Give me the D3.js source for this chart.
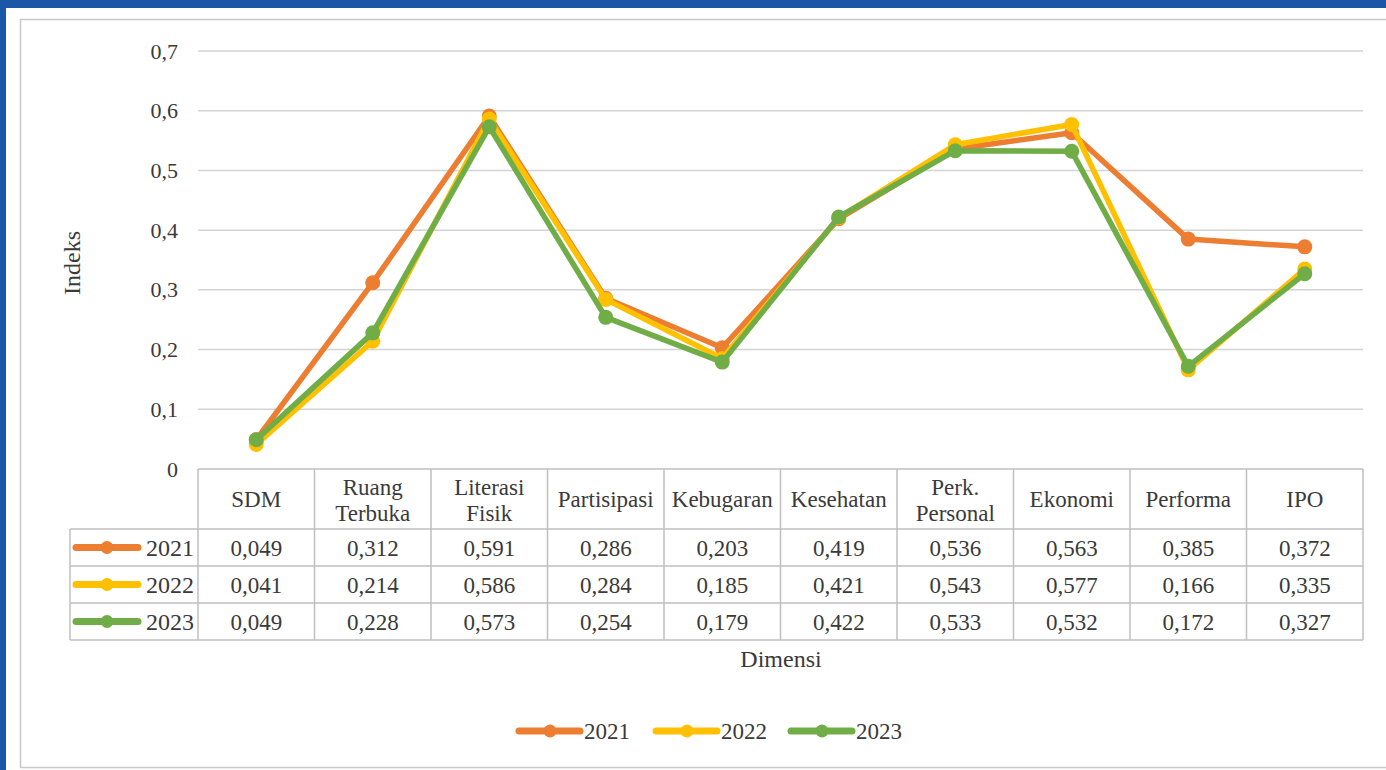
<!DOCTYPE html>
<html>
<head>
<meta charset="utf-8">
<script src="https://cdn.jsdelivr.net/npm/d3@7"></script>
<style>
  body { margin: 0; background: #1b57a6; }
  #chart { position: absolute; left: 0; top: 0; }
  text { font-family: "Liberation Serif", "Times New Roman", serif; }
</style>
</head>
<body>
<div id="chart"></div>
<script>
const categories = ["SDM", "Ruang Terbuka", "Literasi Fisik", "Partisipasi", "Kebugaran", "Kesehatan", "Perk. Personal", "Ekonomi", "Performa", "IPO"];
const categoryLines = [["SDM"], ["Ruang", "Terbuka"], ["Literasi", "Fisik"], ["Partisipasi"], ["Kebugaran"], ["Kesehatan"], ["Perk.", "Personal"], ["Ekonomi"], ["Performa"], ["IPO"]];
const years = ["2021", "2022", "2023"];
const values2021 = [0.049, 0.312, 0.591, 0.286, 0.203, 0.419, 0.536, 0.563, 0.385, 0.372];
const values2022 = [0.041, 0.214, 0.586, 0.284, 0.185, 0.421, 0.543, 0.577, 0.166, 0.335];
const values2023 = [0.049, 0.228, 0.573, 0.254, 0.179, 0.422, 0.533, 0.532, 0.172, 0.327];
const yTicks = [0, 0.1, 0.2, 0.3, 0.4, 0.5, 0.6, 0.7];
const colors = ["#ed7d31", "#ffc000", "#70ad47"];

const series = years.map((y, i) => ({ year: y, values: [values2021, values2022, values2023][i], color: colors[i] }));

const W = 1386, H = 770;
const font = "'Liberation Serif', 'Times New Roman', serif";
const textColor = "#3a3a3a";
const fs = 23;

const svg = d3.select("#chart").append("svg")
  .attr("width", W).attr("height", H)
  .style("font-family", font);

// white panel and frame
svg.append("rect").attr("x", 6).attr("y", 8).attr("width", W - 6).attr("height", H - 8).attr("fill", "#fff");
svg.append("rect").attr("x", 20.5).attr("y", 19.5).attr("width", W).attr("height", 748)
  .attr("fill", "none").attr("stroke", "#c8c8c8").attr("stroke-width", 1.5);

const left = 198, right = 1363;
const x = d3.scaleBand().domain(categories).range([left, right]);
const y = d3.scaleLinear().domain([0, 0.7]).range([469, 51]);
const fmt = d => d3.format(".3f")(d).replace(".", ",");
const tickFmt = d => d === 0 ? "0" : d3.format(".1f")(d).replace(".", ",");

// gridlines
svg.append("g").selectAll("line").data(yTicks.filter(d => d > 0)).join("line")
  .attr("x1", left).attr("x2", right)
  .attr("y1", d => y(d)).attr("y2", d => y(d))
  .attr("stroke", "#d4d4d4").attr("stroke-width", 1.5);

// y axis labels
const yAxis = svg.append("g").attr("transform", "translate(184,0)")
  .call(d3.axisLeft(y).tickValues(yTicks).tickFormat(tickFmt).tickSize(0).tickPadding(6));
yAxis.attr("font-family", font);
yAxis.select(".domain").remove();
yAxis.selectAll("text").attr("font-size", 22).attr("fill", textColor);

svg.append("text")
  .attr("transform", "translate(80,263) rotate(-90)")
  .attr("text-anchor", "middle").attr("font-size", 24).attr("fill", textColor)
  .text("Indeks");

// lines and markers
const line = d3.line().x((d, i) => x(categories[i]) + x.bandwidth() / 2).y(d => y(d));
series.forEach(s => {
  const g = svg.append("g");
  g.append("path").datum(s.values)
    .attr("fill", "none").attr("stroke", s.color).attr("stroke-width", 5.5)
    .attr("stroke-linejoin", "round").attr("d", line);
  g.selectAll("circle").data(s.values).join("circle")
    .attr("cx", (d, i) => x(categories[i]) + x.bandwidth() / 2)
    .attr("cy", d => y(d)).attr("r", 7.5).attr("fill", s.color);
});

// data table
const rowTops = [469, 529, 566, 603, 640];
const tableLeft = 70;
const border = "#bfbfbf";
const tg = svg.append("g").attr("stroke", border).attr("stroke-width", 1.5);
tg.append("line").attr("x1", left).attr("x2", right).attr("y1", rowTops[0]).attr("y2", rowTops[0]);
rowTops.slice(1).forEach(r => tg.append("line").attr("x1", tableLeft).attr("x2", right).attr("y1", r).attr("y2", r));
x.domain().forEach(c => tg.append("line").attr("x1", x(c)).attr("x2", x(c)).attr("y1", rowTops[0]).attr("y2", rowTops[4]));
tg.append("line").attr("x1", right).attr("x2", right).attr("y1", rowTops[0]).attr("y2", rowTops[4]);
tg.append("line").attr("x1", tableLeft).attr("x2", tableLeft).attr("y1", rowTops[1]).attr("y2", rowTops[4]);

// header text
categoryLines.forEach((lines, i) => {
  const cx = x(categories[i]) + x.bandwidth() / 2;
  const t = svg.append("text").attr("text-anchor", "middle").attr("font-size", fs).attr("fill", textColor);
  const startY = lines.length === 1 ? 507 : 495;
  lines.forEach((l, j) => t.append("tspan").attr("x", cx).attr("y", startY + j * 26).text(l));
});

// rows
series.forEach((s, r) => {
  const cy = (rowTops[r + 1] + rowTops[r + 2]) / 2;
  svg.append("line").attr("x1", 76).attr("x2", 138).attr("y1", cy).attr("y2", cy)
    .attr("stroke", s.color).attr("stroke-width", 7).attr("stroke-linecap", "round");
  svg.append("circle").attr("cx", 107).attr("cy", cy).attr("r", 6.5).attr("fill", s.color);
  svg.append("text").attr("x", 194).attr("y", cy + 8).attr("text-anchor", "end")
    .attr("font-size", 24).attr("fill", textColor).text(s.year);
  s.values.forEach((v, i) => {
    svg.append("text").attr("x", x(categories[i]) + x.bandwidth() / 2).attr("y", cy + 8)
      .attr("text-anchor", "middle").attr("font-size", fs).attr("fill", textColor).text(fmt(v));
  });
});

svg.append("text").attr("x", 781).attr("y", 667).attr("text-anchor", "middle")
  .attr("font-size", 24).attr("fill", textColor).text("Dimensi");

// legend
const legendX = [519, 656, 791];
series.forEach((s, i) => {
  const lx = legendX[i], ly = 731;
  svg.append("line").attr("x1", lx).attr("x2", lx + 61).attr("y1", ly).attr("y2", ly)
    .attr("stroke", s.color).attr("stroke-width", 7).attr("stroke-linecap", "round");
  svg.append("circle").attr("cx", lx + 31).attr("cy", ly).attr("r", 6.5).attr("fill", s.color);
  svg.append("text").attr("x", lx + 65).attr("y", ly + 8).attr("font-size", 23)
    .attr("fill", textColor).text(s.year);
});
</script>
</body>
</html>
